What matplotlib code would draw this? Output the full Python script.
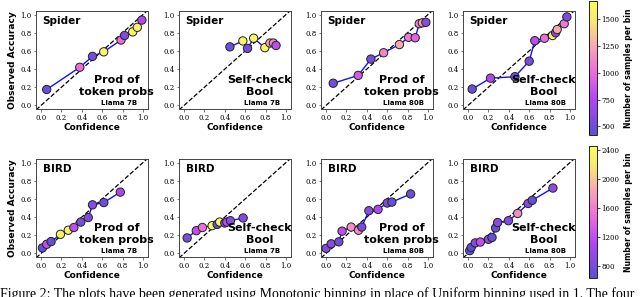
import numpy as np
import matplotlib
matplotlib.use("Agg")
import matplotlib.pyplot as plt
from matplotlib.colors import LinearSegmentedColormap, Normalize
from matplotlib.cm import ScalarMappable

# ---------------------------------------------------------------- data
datasets = ["Spider", "BIRD"]
methods = ["Prod of\ntoken probs", "Self-check\nBool", "Prod of\ntoken probs", "Self-check\nBool"]
models = ["Llama 7B", "Llama 7B", "Llama 80B", "Llama 80B"]

# Spider row
sp_conf_1 = [0.055, 0.38, 0.505, 0.615, 0.785, 0.82, 0.90, 0.945, 0.99]
sp_acc_1 = [0.175, 0.42, 0.54, 0.59, 0.72, 0.77, 0.81, 0.86, 0.94]
sp_n_1 = [480, 1000, 520, 1580, 1000, 560, 1600, 1560, 760]

sp_conf_2 = [0.45, 0.577, 0.623, 0.683, 0.793, 0.843, 0.877, 0.903]
sp_acc_2 = [0.645, 0.71, 0.628, 0.74, 0.636, 0.687, 0.687, 0.66]
sp_n_2 = [500, 1600, 520, 1600, 1580, 1220, 1100, 800]

sp_conf_3 = [0.07, 0.315, 0.44, 0.565, 0.72, 0.81, 0.875, 0.915, 0.945, 0.98]
sp_acc_3 = [0.244, 0.33, 0.51, 0.58, 0.67, 0.75, 0.745, 0.90, 0.91, 0.915]
sp_n_3 = [500, 900, 530, 1100, 1250, 1050, 950, 1100, 1200, 600]

sp_conf_4 = [0.04, 0.22, 0.46, 0.60, 0.655, 0.75, 0.83, 0.86, 0.875, 0.944, 0.97]
sp_acc_4 = [0.18, 0.30, 0.316, 0.487, 0.713, 0.74, 0.77, 0.80, 0.836, 0.90, 0.975]
sp_n_4 = [480, 750, 500, 530, 800, 1000, 1600, 600, 1250, 1050, 550]

# BIRD row
bi_conf_1 = [0.013, 0.055, 0.098, 0.19, 0.267, 0.322, 0.39, 0.463, 0.505, 0.616, 0.778]
bi_acc_1 = [0.06, 0.10, 0.13, 0.21, 0.255, 0.285, 0.345, 0.395, 0.535, 0.56, 0.675]
bi_n_1 = [700, 1200, 700, 2300, 2300, 1200, 800, 850, 900, 750, 1100]

bi_conf_2 = [0.03, 0.12, 0.18, 0.275, 0.325, 0.35, 0.40, 0.42, 0.455, 0.58]
bi_acc_2 = [0.17, 0.25, 0.285, 0.305, 0.32, 0.345, 0.335, 0.345, 0.36, 0.39]
bi_n_2 = [800, 1200, 1500, 2350, 700, 2350, 900, 1200, 900, 850]

bi_conf_3 = [0.0, 0.05, 0.125, 0.157, 0.246, 0.318, 0.35, 0.42, 0.51, 0.60, 0.646, 0.83]
bi_acc_3 = [0.055, 0.105, 0.127, 0.245, 0.29, 0.255, 0.29, 0.47, 0.485, 0.555, 0.565, 0.655]
bi_n_3 = [850, 900, 750, 1200, 1700, 1700, 800, 900, 1100, 850, 700, 750]

bi_conf_4 = [0.016, 0.03, 0.07, 0.12, 0.20, 0.235, 0.27, 0.29, 0.396, 0.487, 0.59, 0.63, 0.833]
bi_acc_4 = [0.03, 0.065, 0.115, 0.125, 0.155, 0.175, 0.28, 0.34, 0.36, 0.44, 0.55, 0.585, 0.72]
bi_n_4 = [700, 650, 900, 1200, 900, 700, 750, 900, 850, 1700, 900, 700, 950]

rows = [
    [(sp_conf_1, sp_acc_1, sp_n_1), (sp_conf_2, sp_acc_2, sp_n_2),
     (sp_conf_3, sp_acc_3, sp_n_3), (sp_conf_4, sp_acc_4, sp_n_4)],
    [(bi_conf_1, bi_acc_1, bi_n_1), (bi_conf_2, bi_acc_2, bi_n_2),
     (bi_conf_3, bi_acc_3, bi_n_3), (bi_conf_4, bi_acc_4, bi_n_4)],
]
count_ranges = [(420, 1670), (640, 2450)]
cbar_ticks = [[500, 750, 1000, 1250, 1500], [800, 1200, 1600, 2000, 2400]]

caption = ("Figure 2: The plots have been generated using Monotonic binning "
           "in place of Uniform binning used in 1. The four")

# ---------------------------------------------------------------- style
cmap = LinearSegmentedColormap.from_list("samples", [
    (0.00, "#5a50d2"),
    (0.26, "#b046f0"),
    (0.46, "#ec6ae0"),
    (0.66, "#f8a6b4"),
    (0.86, "#f8ea72"),
    (1.00, "#fdfd5c"),
])

sans = "DejaVu Sans"
serif = "DejaVu Serif"

fig = plt.figure(figsize=(6.4, 2.97), dpi=100)

col_left = [36, 179, 321, 463]
ax_w = 112
row_top = [11, 159]
ax_h = 98
W, H = 640, 297

for r in range(2):
    norm = Normalize(*count_ranges[r])
    for c in range(4):
        x0 = col_left[c] / W
        y0 = 1 - (row_top[r] + ax_h) / H
        ax = fig.add_axes([x0, y0, ax_w / W, ax_h / H])
        conf, acc, n = rows[r][c]
        order = np.argsort(conf)
        conf = np.array(conf)[order]
        acc = np.array(acc)[order]
        n = np.array(n)[order]
        ax.plot([-0.05, 1.05], [-0.05, 1.05], ls="--", color="k", lw=0.9, zorder=1)
        ax.plot(conf, acc, color="#1010ff", lw=1.0, zorder=2)
        ax.scatter(conf, acc, c=n, cmap=cmap, norm=norm, s=36,
                   edgecolors="#222222", linewidths=0.7, zorder=3)
        ax.set_xlim(-0.05, 1.05)
        ax.set_ylim(-0.04, 1.04)
        ticks = [0.0, 0.2, 0.4, 0.6, 0.8, 1.0]
        ax.set_xticks(ticks)
        ax.set_yticks(ticks)
        ax.set_xticklabels([f"{t:.1f}" for t in ticks], fontsize=5, family=serif)
        ax.set_yticklabels([f"{t:.1f}" for t in ticks], fontsize=5, family=serif)
        ax.tick_params(length=1.8, width=0.5, pad=1.5, color="#444444")
        for sp in ax.spines.values():
            sp.set_linewidth(0.7)
            sp.set_color("#444444")
        ax.set_xlabel("Confidence", fontsize=6.5, fontweight="bold", family=sans, labelpad=1)
        if c == 0:
            ax.set_ylabel("Observed Accuracy", fontsize=6.5, fontweight="bold", family=sans, labelpad=2)
        ax.text(0.06, 0.90, datasets[r], transform=ax.transAxes, fontsize=7.5,
                fontweight="bold", family=sans, ha="left", va="center")
        ax.text(0.72, 0.235, methods[c], transform=ax.transAxes, fontsize=8,
                fontweight="bold", family=sans, ha="center", va="center",
                multialignment="center", linespacing=1.15)
        ax.text(0.74, 0.065, models[c], transform=ax.transAxes, fontsize=5,
                fontweight="bold", family=sans, ha="center", va="center")

    # colour bar for the row
    if r == 0:
        cb_top, cb_bot = 1, 135
    else:
        cb_top, cb_bot = 146, 278
    cax = fig.add_axes([589 / W, 1 - cb_bot / H, 8 / W, (cb_bot - cb_top) / H])
    cb = fig.colorbar(ScalarMappable(norm=norm, cmap=cmap), cax=cax)
    cb.set_ticks(cbar_ticks[r])
    cb.ax.set_yticklabels([str(t) for t in cbar_ticks[r]], fontsize=5, family=serif)
    cb.ax.tick_params(length=1.8, width=0.5, pad=1.5)
    cb.outline.set_linewidth(0.6)
    cb.set_label("Number of samples per bin", fontsize=5.6, fontweight="bold", family=sans, labelpad=3)

fig.text(0.0, 1 - 287 / H, caption, fontsize=10, family="Liberation Serif", ha="left", va="top")

fig.savefig("out.png", dpi=100)
